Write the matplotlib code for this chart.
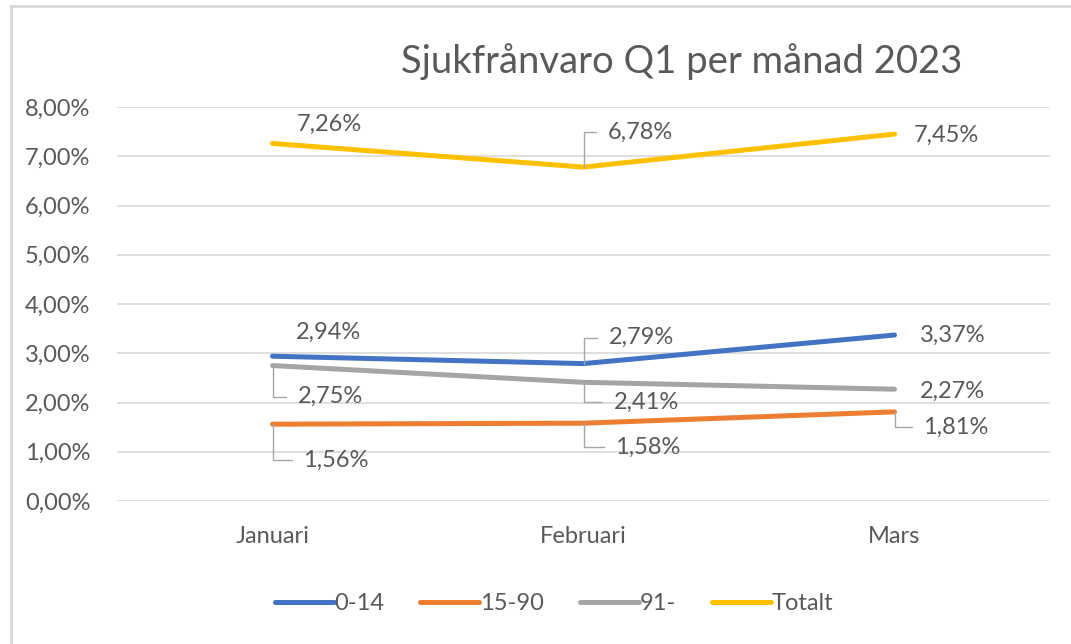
import numpy as np
import matplotlib.pyplot as plt
from matplotlib.lines import Line2D

#-------------------------------------------------------------------------------
# DATA
months = ["Januari", "Februari", "Mars"]
series_names = ["0-14", "15-90", "91-", "Totalt"]
v_0_14 = [2.94, 2.79, 3.37]
v_15_90 = [1.56, 1.58, 1.81]
v_91 = [2.75, 2.41, 2.27]
v_tot = [7.26, 6.78, 7.45]
colors = ["#4472C4", "#ED7D31", "#A5A5A5", "#FFC000"]
#-------------------------------------------------------------------------------

# label offsets in pixels (dx, dy up), and whether a leader line is drawn
label_pos = {
    "0-14":   [(23, 24, False), (25, 26, True), (25, 0, False)],
    "15-90":  [(31, -36, True), (32, -24, True), (29, -15, True)],
    "91-":    [(25, -31, True), (30, -20, True), (25, -2, False)],
    "Totalt": [(24, 19, False), (24, 35, True), (19, -1, False)],
}

plt.rcParams['font.family'] = ['Lato', 'DejaVu Sans']
txt_col = "#595959"
fs = 17

fig = plt.figure(figsize=(10.71, 6.44), dpi=100)
ax = fig.add_axes([117/1071, 1 - 501/644, (1050-117)/1071, (501-107)/644])

x = np.arange(len(months)) + 0.5
all_vals = [v_0_14, v_15_90, v_91, v_tot]
for name, vals, c in zip(series_names, all_vals, colors):
    ax.plot(x, vals, color=c, lw=3.6, solid_capstyle='round', label=name, zorder=3)
    for xi, v, (dx, dy, lead) in zip(x, vals, label_pos[name]):
        s = f"{v:.2f}%".replace(".", ",")
        ap = None
        if lead:
            ap = dict(arrowstyle='-', color="#a6a6a6", lw=1,
                      connectionstyle='angle,angleA=0,angleB=90,rad=0',
                      relpos=(0, 0.5), shrinkA=6, shrinkB=0)
        ax.annotate(s, (xi, v), xytext=(dx, dy), textcoords='offset pixels',
                    ha='left', va='center', fontsize=fs, color=txt_col,
                    arrowprops=ap, zorder=4)

ax.set_xlim(0, 3)
ax.set_ylim(0, 8)
ax.set_xticks(x)
ax.set_xticklabels(months)
ax.set_yticks(np.arange(0, 9))
ax.set_yticklabels([f"{i},00%" for i in range(9)])
ax.tick_params(length=0, labelsize=fs, colors=txt_col)
ax.tick_params(axis='y', pad=19)
ax.tick_params(axis='x', pad=18)
ax.grid(axis='y', color="#d9d9d9", lw=1.2)
ax.set_axisbelow(True)
for sp in ax.spines.values():
    sp.set_visible(False)

fig.text(682/1071, 1 - 62/644, "Sjukfrånvaro Q1 per månad 2023",
         ha='center', va='center', fontsize=27.5, color=txt_col)

fig.legend(loc='center', bbox_to_anchor=(554/1071, 1 - 604/644), ncol=4,
           frameon=False, fontsize=fs, handlelength=2.5, handletextpad=0.05,
           columnspacing=1.5, labelcolor=txt_col)

# chart frame
fig.add_artist(Line2D([11/1071, 11/1071], [0, 1 - 6/644], color="#d9d9d9", lw=2))
fig.add_artist(Line2D([11/1071, 1], [1 - 6/644, 1 - 6/644], color="#d9d9d9", lw=2))

fig.savefig("out.png", dpi=100)
